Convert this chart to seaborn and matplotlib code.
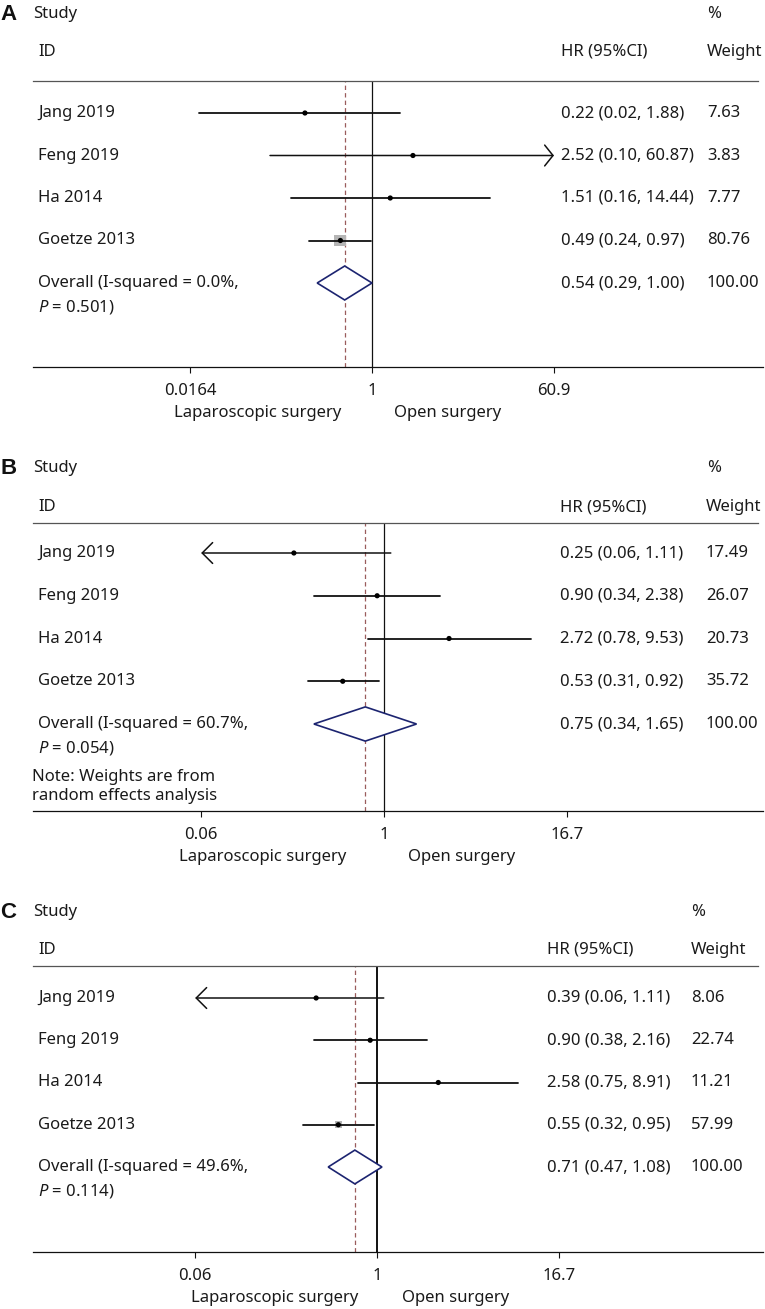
import numpy as np
import matplotlib
matplotlib.use("Agg")
import matplotlib.pyplot as plt
import matplotlib.transforms as mtransforms
from matplotlib.ticker import NullLocator
import seaborn as sns

# ---- data ----
studies = ["Jang 2019", "Feng 2019", "Ha 2014", "Goetze 2013"]

a_hr = [0.22, 2.52, 1.51, 0.49]
a_lo = [0.02, 0.10, 0.16, 0.24]
a_hi = [1.88, 60.87, 14.44, 0.97]
a_wt = [7.63, 3.83, 7.77, 80.76]
a_overall = [0.54, 0.29, 1.00]
a_i2 = "0.0%"
a_p = "0.501"
a_ticks = [0.0164, 1, 60.9]
a_ticklabels = ["0.0164", "1", "60.9"]

b_hr = [0.25, 0.90, 2.72, 0.53]
b_lo = [0.06, 0.34, 0.78, 0.31]
b_hi = [1.11, 2.38, 9.53, 0.92]
b_wt = [17.49, 26.07, 20.73, 35.72]
b_overall = [0.75, 0.34, 1.65]
b_i2 = "60.7%"
b_p = "0.054"
b_ticks = [0.06, 1, 16.7]
b_ticklabels = ["0.06", "1", "16.7"]

c_hr = [0.39, 0.90, 2.58, 0.55]
c_lo = [0.06, 0.38, 0.75, 0.32]
c_hi = [1.11, 2.16, 8.91, 0.95]
c_wt = [8.06, 22.74, 11.21, 57.99]
c_overall = [0.71, 0.47, 1.08]
c_i2 = "49.6%"
c_p = "0.114"
c_ticks = [0.06, 1, 16.7]
c_ticklabels = ["0.06", "1", "16.7"]

overall_weight = 100.00
note_lines = ["Note: Weights are from", "random effects analysis"]
left_label = "Laparoscopic surgery"
right_label = "Open surgery"

# ---- style ----
W, H = 765, 1309
sns.set_theme(style="white")
plt.rcParams["font.family"] = ["Noto Sans", "DejaVu Sans"]
plt.rcParams["mathtext.fontset"] = "custom"
plt.rcParams["mathtext.it"] = "Noto Sans:italic"
plt.rcParams["mathtext.rm"] = "Noto Sans"
FS = 12
TXT = "#1a1a1a"
NAVY = "#1c2470"
DASH = "#9a5c5c"


def fx(x):
    return x / W


def fy(y):
    return 1 - y / H


# layout in pixels (null = x of the line at 1, tickpx = distance from 1 to last tick)
panels = [
    dict(letter="A", hr=a_hr, lo=a_lo, hi=a_hi, wt=a_wt, ov=a_overall, i2=a_i2, p=a_p,
         ticks=a_ticks, ticklabels=a_ticklabels, note=False,
         top=81, axis=367, row0=113, step=42.5, null=372, tickpx=182,
         y_study=14, y_id=52, hr_x=561, wt_x=707, pct_x=707, box_k=0.95, null_lw=0.9,
         lap_end=341, open_start=394),
    dict(letter="B", hr=b_hr, lo=b_lo, hi=b_hi, wt=b_wt, ov=b_overall, i2=b_i2, p=b_p,
         ticks=b_ticks, ticklabels=b_ticklabels, note=True,
         top=523, axis=811, row0=553, step=42.75, null=384, tickpx=183,
         y_study=468, y_id=507, hr_x=560, wt_x=706, pct_x=707, box_k=0.0, null_lw=0.9,
         lap_end=346, open_start=408),
    dict(letter="C", hr=c_hr, lo=c_lo, hi=c_hi, wt=c_wt, ov=c_overall, i2=c_i2, p=c_p,
         ticks=c_ticks, ticklabels=c_ticklabels, note=False,
         top=966, axis=1252, row0=998, step=42.25, null=377, tickpx=182,
         y_study=912, y_id=950, hr_x=547, wt_x=691, pct_x=691, box_k=0.66, null_lw=1.4,
         lap_end=358, open_start=402),
]

fig = plt.figure(figsize=(W / 100, H / 100), dpi=100)
X0, X1 = 33, 763

for P in panels:
    ax = fig.add_axes([fx(X0), fy(P["axis"]), fx(X1 - X0), (P["axis"] - P["top"]) / H])
    ppl = P["tickpx"] / np.log(P["ticks"][-1])
    ax.set_xscale("log")
    ax.set_xlim(np.exp((X0 - P["null"]) / ppl), np.exp((X1 - P["null"]) / ppl))
    ax.set_ylim((P["axis"] - P["row0"]) / P["step"], (P["top"] - P["row0"]) / P["step"])
    ax.patch.set_alpha(0)
    for s in ["left", "right"]:
        ax.spines[s].set_visible(False)
    ax.spines["top"].set_color("#555555")
    ax.spines["top"].set_linewidth(0.9)
    ax.spines["top"].set_bounds(ax.get_xlim()[0], np.exp((758 - P["null"]) / ppl))
    ax.spines["bottom"].set_color("#111111")
    ax.spines["bottom"].set_linewidth(0.9)
    ax.set_yticks([])
    ax.set_xticks(P["ticks"])
    ax.set_xticklabels(P["ticklabels"])
    ax.xaxis.set_minor_locator(NullLocator())
    ax.tick_params(axis="x", direction="out", length=4.5, width=0.8, pad=7,
                   labelsize=FS, colors="#111111", labelcolor=TXT, bottom=True)

    rows = np.arange(len(studies))
    ov_est, ov_lo, ov_hi = P["ov"]

    # reference lines
    ax.axvline(1, color="#111111", lw=P["null_lw"], zorder=1)
    ax.axvline(ov_est, color=DASH, lw=0.9, dashes=(3.5, 2.5), zorder=1)

    # confidence intervals
    t_lo, t_hi = P["ticks"][0], P["ticks"][-1]
    for i, (lo, hi) in enumerate(zip(P["lo"], P["hi"])):
        if lo <= t_lo * 1.01:
            ax.annotate("", xy=(lo, i), xytext=(hi, i),
                        arrowprops=dict(arrowstyle="->,head_length=0.75,head_width=0.75",
                                        lw=1.1, color="#111111", shrinkA=0, shrinkB=0,
                                        mutation_scale=10), zorder=3)
        elif hi >= t_hi * 0.99:
            ax.annotate("", xy=(hi, i), xytext=(lo, i),
                        arrowprops=dict(arrowstyle="->,head_length=0.6,head_width=0.75",
                                        lw=1.1, color="#111111", shrinkA=0, shrinkB=0,
                                        mutation_scale=10), zorder=3)
        else:
            ax.plot([lo, hi], [i, i], color="#111111", lw=1.3, zorder=3)

    # weight boxes and point estimates
    if P["box_k"] > 0:
        sizes = (P["box_k"] * np.sqrt(np.array(P["wt"]))) ** 2
        sns.scatterplot(x=P["hr"], y=rows, marker="s", s=sizes, color="#b5b5b5",
                        edgecolor="none", ax=ax, legend=False, zorder=2)
    sns.scatterplot(x=P["hr"], y=rows, marker="o", s=14, color="black",
                    edgecolor="none", ax=ax, legend=False, zorder=4)

    # overall diamond
    r = len(studies)
    h = 0.4
    ax.fill([ov_lo, ov_est, ov_hi, ov_est, ov_lo], [r, r - h, r, r + h, r],
            facecolor="white", edgecolor=NAVY, lw=1.2, zorder=4)

    # text columns
    tr = mtransforms.blended_transform_factory(fig.transFigure, ax.transData)
    tk = dict(transform=tr, fontsize=FS, color=TXT, va="center", clip_on=False)
    for i, name in enumerate(studies):
        ax.text(fx(38), i, name, **tk)
        ax.text(fx(P["hr_x"]), i, f"{P['hr'][i]:.2f} ({P['lo'][i]:.2f}, {P['hi'][i]:.2f})", **tk)
        ax.text(fx(P["wt_x"]), i, f"{P['wt'][i]:.2f}", **tk)
    ax.text(fx(38), r, f"Overall (I-squared = {P['i2']},", **tk)
    ax.text(fx(38), r + 0.56, r"$\it{P}$" + f" = {P['p']})", **tk)
    ax.text(fx(P["hr_x"]), r, f"{ov_est:.2f} ({ov_lo:.2f}, {ov_hi:.2f})", **tk)
    ax.text(fx(P["wt_x"]), r, f"{overall_weight:.2f}", **tk)
    if P["note"]:
        ax.text(fx(32), r + 1.24, note_lines[0], **tk)
        ax.text(fx(32), r + 1.69, note_lines[1], **tk)

    # headers
    fig.text(fx(0), fy(P["y_study"] + 1), P["letter"], fontsize=16, fontweight="bold",
             family=["Liberation Sans", "DejaVu Sans"], color="#111111", va="center")
    fig.text(fx(33), fy(P["y_study"]), "Study", fontsize=FS, color=TXT, va="center")
    fig.text(fx(P["pct_x"]), fy(P["y_study"]), "%", fontsize=FS, color=TXT, va="center")
    fig.text(fx(38), fy(P["y_id"]), "ID", fontsize=FS, color=TXT, va="center")
    fig.text(fx(P["hr_x"]), fy(P["y_id"]), "HR (95%CI)", fontsize=FS, color=TXT, va="center")
    fig.text(fx(P["wt_x"]), fy(P["y_id"]), "Weight", fontsize=FS, color=TXT, va="center")

    # favours labels
    fig.text(fx(P["lap_end"]), fy(P["axis"] + 46), left_label, fontsize=FS, color=TXT,
             va="center", ha="right")
    fig.text(fx(P["open_start"]), fy(P["axis"] + 46), right_label, fontsize=FS, color=TXT,
             va="center", ha="left")

fig.savefig("out.png", dpi=100, facecolor="white")
